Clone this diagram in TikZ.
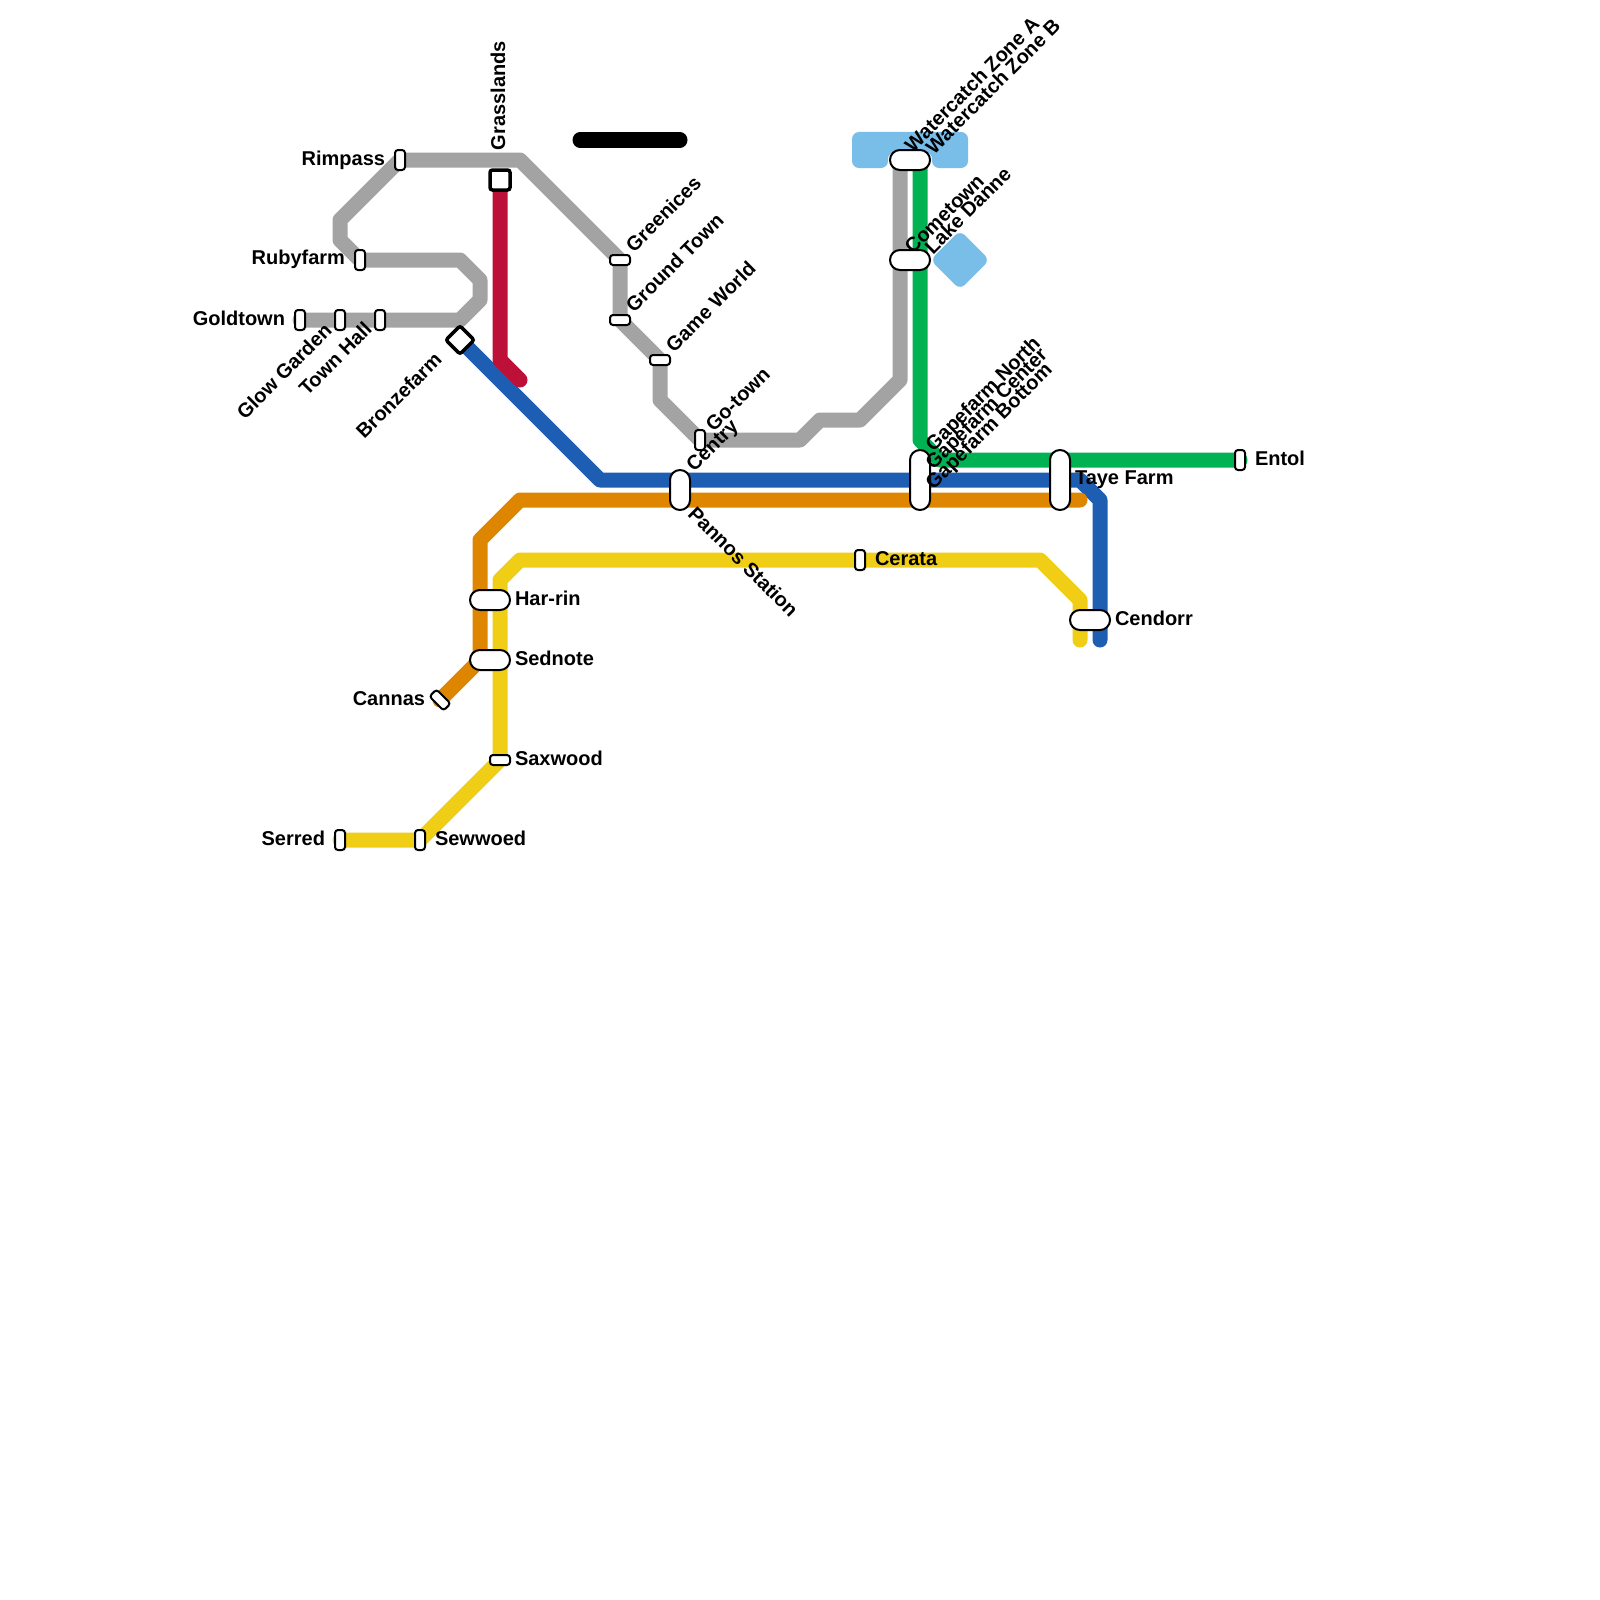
\documentclass[tikz,border=0pt]{standalone}
\usepackage{fontspec}
\setmainfont{Liberation Sans}
\usetikzlibrary{backgrounds}
\definecolor{cgray}{HTML}{A3A3A3}
\definecolor{cred}{HTML}{BD1038}
\definecolor{cblue}{HTML}{1D5EB3}
\definecolor{corange}{HTML}{DF8600}
\definecolor{cyellow}{HTML}{F0CE15}
\definecolor{cgreen}{HTML}{00B251}
\definecolor{clake}{HTML}{79BDE9}
\tikzset{
  x=1pt,y=-1pt,
  track/.style={line width=15pt,line cap=round,line join=round},
  stn/.style={draw=black,fill=white,line width=2pt,inner sep=0pt,outer sep=0pt,rectangle},
  stv/.style={stn,minimum width=10pt,minimum height=20pt,rounded corners=3pt},
  sth/.style={stn,minimum width=20pt,minimum height=10pt,rounded corners=3pt},
  pillh/.style={stn,minimum width=40pt,minimum height=20pt,rounded corners=9.9pt},
  pillv/.style={stn,minimum width=20pt,minimum height=40pt,rounded corners=9.9pt},
  pilltall/.style={stn,minimum width=20pt,minimum height=60pt,rounded corners=9.9pt},
  hub/.style={stn,line width=3.5pt,minimum width=20pt,minimum height=20pt,rounded corners=2.5pt},
  water/.style={fill=clake,inner sep=0pt,outer sep=0pt,rectangle,rounded corners=7pt},
  lbl/.style={inner sep=0pt,outer sep=0pt,font=\bfseries\fontsize{20}{20}\selectfont,text=black},
}
\begin{document}
\begin{tikzpicture}
\useasboundingbox (0,0) rectangle (1600,1600);
% stations
\node[stv] (rimpass) at (400,160) {};
\node[stv] (rubyfarm) at (360,260) {};
\node[stv] (goldtown) at (300,320) {};
\node[stv] (glow) at (340,320) {};
\node[stv] (townhall) at (380,320) {};
\node[hub] (grasslands) at (500,180) {};
\node[hub,rotate=45] (bronzefarm) at (460,340) {};
\node[sth] (greenices) at (620,260) {};
\node[sth] (groundtown) at (620,320) {};
\node[sth] (gameworld) at (660,360) {};
\node[stv] (gotown) at (700,440) {};
\node[pillv] (centry) at (680,490) {};
\node[pilltall] (gapefarm) at (920,480) {};
\node[pilltall] (taye) at (1060,480) {};
\node[stv] (entol) at (1240,460) {};
\node[stv] (cerata) at (860,560) {};
\node[pillh] (cendorr) at (1090,620) {};
\node[pillh] (harrin) at (490,600) {};
\node[pillh] (sednote) at (490,660) {};
\node[sth] (saxwood) at (500,760) {};
\node[sth,rotate=-45] (cannas) at (440,700) {};
\node[stv] (serred) at (340,840) {};
\node[stv] (sewwoed) at (420,840) {};
\node[pillh] (watercatch) at (910,160) {};
\node[pillh] (cometown) at (910,260) {};
% track points under the wide stations
\coordinate (wcgray) at (900,160);
\coordinate (wcgreen) at (920,160);
\coordinate (blackA) at (580,140);
\coordinate (blackB) at (680,140);
\begin{scope}[on background layer]
\fill[white] (0,0) rectangle (1600,1600);
\fill[clake,rounded corners=7pt] (852,132) -- (968,132) -- (968,168) -- (932,168) -- (932,152) -- (888,152) -- (888,168) -- (852,168) -- cycle;
\node[water,rotate=45,minimum width=42pt,minimum height=42pt] (lakedanne) at (960,260) {};
\draw[track,cgray] (goldtown.center) -- (glow.center) -- (townhall.center) -- (460,320) -- (480,300) -- (480,280) -- (460,260) -- (rubyfarm.center) -- (340,240) -- (340,220) -- (rimpass.center) -- (520,160) -- (greenices.center) -- (groundtown.center) -- (gameworld.center) -- (660,400) -- (gotown.center) -- (800,440) -- (820,420) -- (860,420) -- (900,380) -- (wcgray);
\draw[track,cgreen] (wcgreen) -- (920,440) -- (940,460) -- (entol.center);
\draw[track,cblue] (bronzefarm.center) -- (600,480) -- (1080,480) -- (1100,500) -- (1100,640);
\draw[track,corange] (cannas.center) -- (480,660) -- (480,540) -- (520,500) -- (1080,500);
\draw[track,cyellow] (serred.center) -- (sewwoed.center) -- (saxwood.center) -- (500,580) -- (520,560) -- (cerata.center) -- (1040,560) -- (1080,600) -- (1080,640);
\draw[track,cred] (grasslands.center) -- (500,360) -- (520,380);
\draw[track,black] (blackA) -- (blackB);
\end{scope}
% labels
\node[lbl,anchor=east] (lrimpass) at (385,160) {Rimpass};
\node[lbl,anchor=east] (lrubyfarm) at (345,259) {Rubyfarm};
\node[lbl,anchor=east] (lgoldtown) at (285,318) {Goldtown};
\node[lbl,anchor=east,rotate=45] (lglow) at (328,327) {Glow Garden};
\node[lbl,anchor=east,rotate=45] (ltown) at (368,326) {Town Hall};
\node[lbl,anchor=east,rotate=45] (lbronze) at (438,356) {Bronzefarm};
\node[lbl,anchor=west,rotate=90] (lgrass) at (498,150) {Grasslands};
\node[lbl,anchor=west,rotate=45] (lgreen) at (629,248) {Greenices};
\node[lbl,anchor=west,rotate=45] (lground) at (629,308) {Ground Town};
\node[lbl,anchor=west,rotate=45] (lgame) at (669,348) {Game World};
\node[lbl,anchor=west,rotate=45] (lgo) at (709,428) {Go-town};
\node[lbl,anchor=west,rotate=45] (lcentry) at (691,469) {Centry};
\node[lbl,anchor=west,rotate=-45] (lpannos) at (692,510) {Pannos Station};
\node[lbl,anchor=west,rotate=45] (lgn) at (930,449) {Gapefarm North};
\node[lbl,anchor=west,rotate=45] (lgc) at (930,467) {Gapefarm Center};
\node[lbl,anchor=west,rotate=45] (lgb) at (930,487) {Gapefarm Bottom};
\node[lbl,anchor=west] (ltaye) at (1075,480) {Taye Farm};
\node[lbl,anchor=west,rotate=45] (lcomet) at (908,250) {Cometown};
\node[lbl,anchor=west,rotate=45] (llake) at (928,250) {Lake Danne};
\node[lbl,anchor=west,rotate=45] (lwa) at (908,148) {Watercatch Zone A};
\node[lbl,anchor=west,rotate=45] (lwb) at (929,150) {Watercatch Zone B};
\node[lbl,anchor=west] (lentol) at (1255,458) {Entol};
\node[lbl,anchor=west] (lcerata) at (875,559) {Cerata};
\node[lbl,anchor=west] (lharrin) at (515,598) {Har-rin};
\node[lbl,anchor=west] (lsednote) at (515,658) {Sednote};
\node[lbl,anchor=west] (lsaxwood) at (515,758) {Saxwood};
\node[lbl,anchor=west] (lsewwoed) at (435,838) {Sewwoed};
\node[lbl,anchor=west] (lcendorr) at (1115,618) {Cendorr};
\node[lbl,anchor=east] (lcannas) at (425,699) {Cannas};
\node[lbl,anchor=east] (lserred) at (325,838) {Serred};
\end{tikzpicture}
\end{document}
